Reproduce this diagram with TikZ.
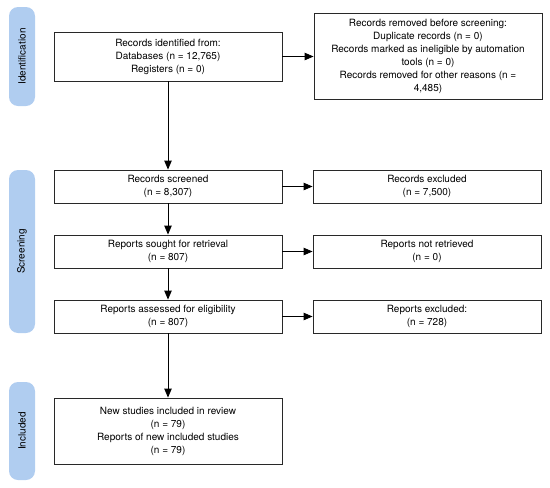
\documentclass[tikz,border=0pt]{standalone}
\usepackage{fontspec}
\setmainfont{TeX Gyre Heros}
\usetikzlibrary{arrows.meta}
\definecolor{barblue}{RGB}{176,205,240}
\definecolor{boxline}{RGB}{40,40,40}
\begin{document}
\begin{tikzpicture}[x=1pt,y=-1pt,
  box/.style={draw=boxline,line width=0.9pt,minimum width=228pt,inner sep=0pt,align=center,font=\fontsize{10}{13}\selectfont},
  bar/.style={fill=barblue,rounded corners=9pt,minimum height=26pt,inner sep=0pt,rotate=90,font=\fontsize{10}{12}\selectfont},
  arr/.style={-{Triangle[length=9pt,width=7.5pt]},line width=0.9pt,draw=black}]
\useasboundingbox (0,0) rectangle (550,488);
\node[box,minimum height=49pt] (id) at (168,56.5) {Records identified from:\\Databases (n = 12,765)\\Registers (n = 0)};
\node[box,minimum height=86pt] (rem) at (428,56) {Records removed before screening:\\Duplicate records (n = 0)\\Records marked as ineligible by automation\\tools (n = 0)\\Records removed for other reasons (n =\\4,485)};
\node[box,minimum height=33pt] (scr) at (168,186.5) {Records screened\\(n = 8,307)};
\node[box,minimum height=33pt] (exc1) at (427,186.5) {Records excluded\\(n = 7,500)};
\node[box,minimum height=33pt] (sou) at (168,251.5) {Reports sought for retrieval\\(n = 807)};
\node[box,minimum height=33pt] (nret) at (427,251.5) {Reports not retrieved\\(n = 0)};
\node[box,minimum height=33pt] (ass) at (168,316.5) {Reports assessed for eligibility\\(n = 807)};
\node[box,minimum height=33pt] (exc2) at (427,316.5) {Reports excluded:\\(n = 728)};
\node[box,minimum height=66pt] (inc) at (168,431) {New studies included in review\\(n = 79)\\Reports of new included studies\\(n = 79)};
\node[bar,minimum width=99pt] (b1) at (22,56.5) {Identification};
\node[bar,minimum width=163pt] (b2) at (22,251.5) {Screening};
\node[bar,minimum width=98pt] (b3) at (22,431) {Included};
\draw[arr] (id.east) -- (rem.west |- id.east);
\draw[arr] (id.south) -- (scr.north);
\draw[arr] (scr) -- (exc1);
\draw[arr] (scr) -- (sou);
\draw[arr] (sou) -- (nret);
\draw[arr] (sou) -- (ass);
\draw[arr] (ass) -- (exc2);
\draw[arr] (ass) -- (inc);
\end{tikzpicture}
\end{document}
